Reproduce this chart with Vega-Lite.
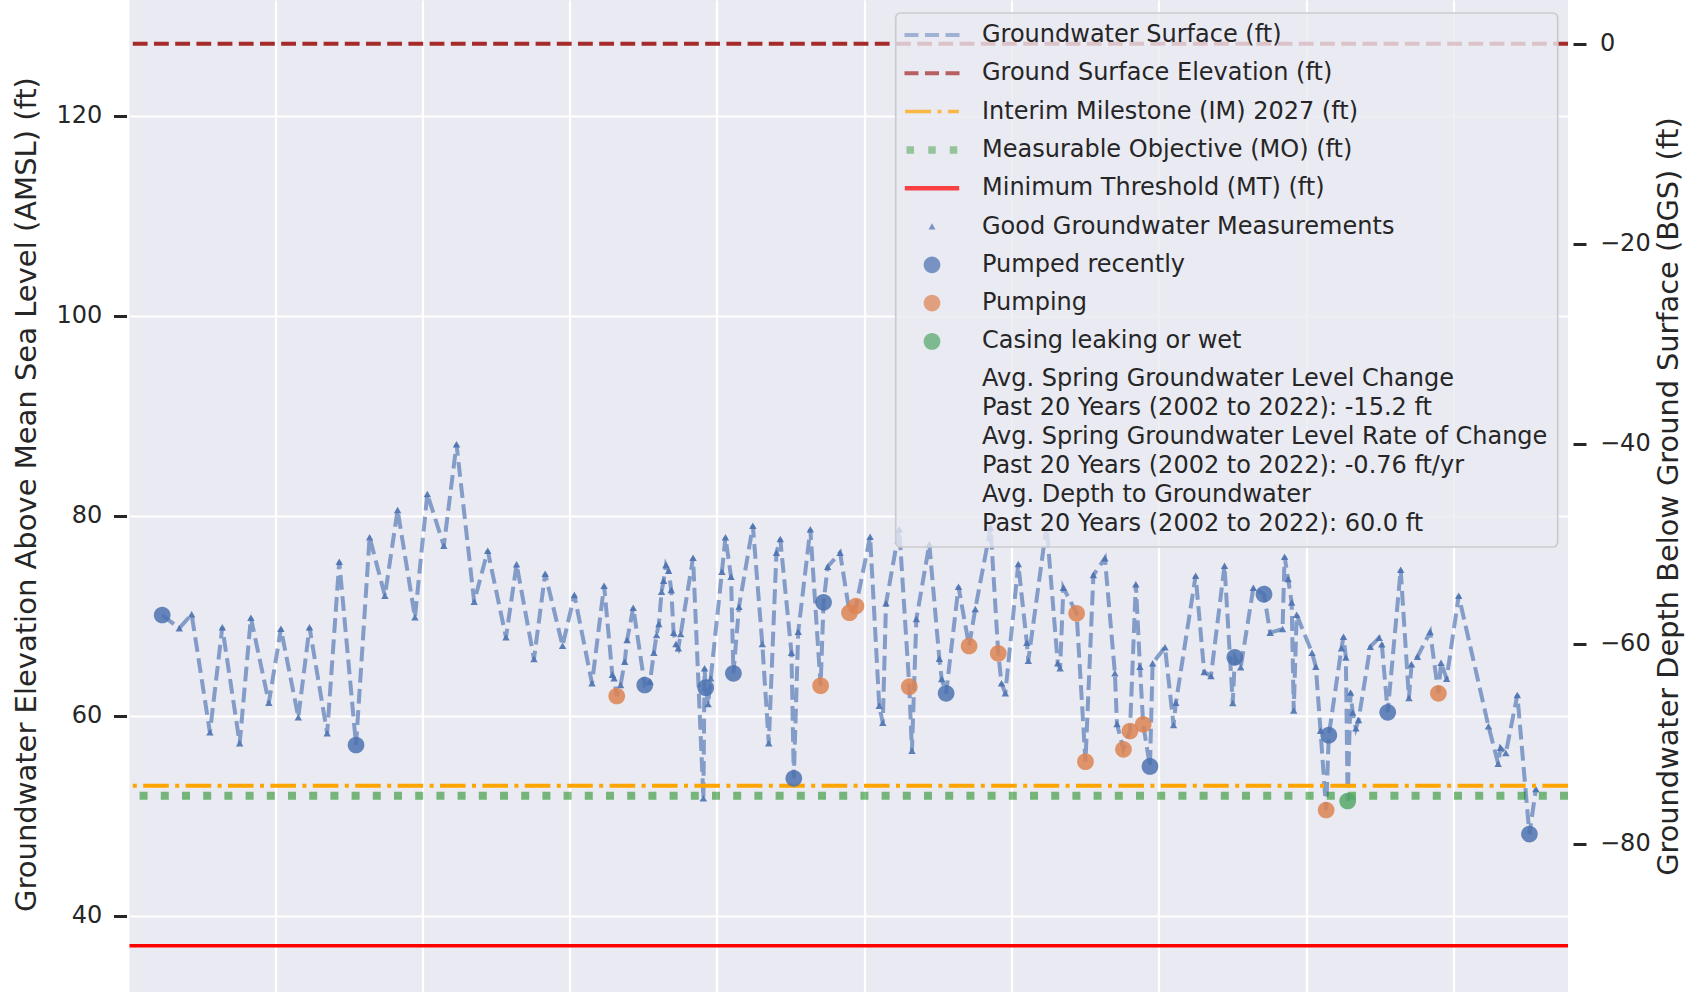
{
  "$schema": "https://vega.github.io/schema/vega-lite/v6.json",
  "width": 1438.5,
  "height": 992,
  "autosize": {"type": "none"},
  "padding": {"left": 129.5, "top": 0, "right": 126, "bottom": 0},
  "background": "white",
  "config": {
    "view": {"fill": "#EAEAF2", "stroke": null},
    "font": "DejaVu Sans",
    "axis": {"labelFont": "DejaVu Sans", "titleFont": "DejaVu Sans", "labelColor": "#262626", "titleColor": "#262626", "titleFontWeight": "normal", "domain": false},
    "legend": {"strokeWidth": 1.7}
  },
  "datasets": {
    "gw": [
      {"year": 1976.17, "elev": 70.07, "status": "Pumped recently"},
      {"year": 1976.75, "elev": 68.74, "status": "Good Groundwater Measurements"},
      {"year": 1977.17, "elev": 70.14, "status": "Good Groundwater Measurements"},
      {"year": 1977.79, "elev": 58.33, "status": "Good Groundwater Measurements"},
      {"year": 1978.21, "elev": 68.84, "status": "Good Groundwater Measurements"},
      {"year": 1978.80, "elev": 57.24, "status": "Good Groundwater Measurements"},
      {"year": 1979.18, "elev": 69.80, "status": "Good Groundwater Measurements"},
      {"year": 1979.79, "elev": 61.30, "status": "Good Groundwater Measurements"},
      {"year": 1980.20, "elev": 68.70, "status": "Good Groundwater Measurements"},
      {"year": 1980.79, "elev": 59.84, "status": "Good Groundwater Measurements"},
      {"year": 1981.17, "elev": 68.84, "status": "Good Groundwater Measurements"},
      {"year": 1981.77, "elev": 58.24, "status": "Good Groundwater Measurements"},
      {"year": 1982.18, "elev": 75.40, "status": "Good Groundwater Measurements"},
      {"year": 1982.75, "elev": 57.07, "status": "Pumped recently"},
      {"year": 1983.21, "elev": 77.84, "status": "Good Groundwater Measurements"},
      {"year": 1983.73, "elev": 72.00, "status": "Good Groundwater Measurements"},
      {"year": 1984.16, "elev": 80.57, "status": "Good Groundwater Measurements"},
      {"year": 1984.75, "elev": 69.84, "status": "Good Groundwater Measurements"},
      {"year": 1985.17, "elev": 82.17, "status": "Good Groundwater Measurements"},
      {"year": 1985.73, "elev": 77.00, "status": "Good Groundwater Measurements"},
      {"year": 1986.16, "elev": 87.14, "status": "Good Groundwater Measurements"},
      {"year": 1986.76, "elev": 71.40, "status": "Good Groundwater Measurements"},
      {"year": 1987.22, "elev": 76.50, "status": "Good Groundwater Measurements"},
      {"year": 1987.84, "elev": 67.84, "status": "Good Groundwater Measurements"},
      {"year": 1988.20, "elev": 75.14, "status": "Good Groundwater Measurements"},
      {"year": 1988.79, "elev": 65.67, "status": "Good Groundwater Measurements"},
      {"year": 1989.17, "elev": 74.20, "status": "Good Groundwater Measurements"},
      {"year": 1989.76, "elev": 67.00, "status": "Good Groundwater Measurements"},
      {"year": 1990.16, "elev": 72.07, "status": "Good Groundwater Measurements"},
      {"year": 1990.76, "elev": 63.24, "status": "Good Groundwater Measurements"},
      {"year": 1991.17, "elev": 73.00, "status": "Good Groundwater Measurements"},
      {"year": 1991.45, "elev": 64.10, "status": "Good Groundwater Measurements"},
      {"year": 1991.51, "elev": 63.74, "status": "Good Groundwater Measurements"},
      {"year": 1991.60, "elev": 61.97, "status": "Pumping"},
      {"year": 1991.73, "elev": 63.07, "status": "Good Groundwater Measurements"},
      {"year": 1991.87, "elev": 65.40, "status": "Good Groundwater Measurements"},
      {"year": 1991.95, "elev": 67.57, "status": "Good Groundwater Measurements"},
      {"year": 1992.16, "elev": 70.80, "status": "Good Groundwater Measurements"},
      {"year": 1992.55, "elev": 63.07, "status": "Pumped recently"},
      {"year": 1992.73, "elev": 63.40, "status": "Good Groundwater Measurements"},
      {"year": 1992.86, "elev": 66.30, "status": "Good Groundwater Measurements"},
      {"year": 1992.95, "elev": 68.07, "status": "Good Groundwater Measurements"},
      {"year": 1993.03, "elev": 69.17, "status": "Good Groundwater Measurements"},
      {"year": 1993.12, "elev": 72.40, "status": "Good Groundwater Measurements"},
      {"year": 1993.19, "elev": 73.50, "status": "Good Groundwater Measurements"},
      {"year": 1993.27, "elev": 75.07, "status": "Good Groundwater Measurements"},
      {"year": 1993.36, "elev": 74.50, "status": "Good Groundwater Measurements"},
      {"year": 1993.45, "elev": 72.57, "status": "Good Groundwater Measurements"},
      {"year": 1993.53, "elev": 68.30, "status": "Good Groundwater Measurements"},
      {"year": 1993.61, "elev": 67.17, "status": "Good Groundwater Measurements"},
      {"year": 1993.69, "elev": 66.74, "status": "Good Groundwater Measurements"},
      {"year": 1993.77, "elev": 68.17, "status": "Good Groundwater Measurements"},
      {"year": 1994.19, "elev": 75.80, "status": "Good Groundwater Measurements"},
      {"year": 1994.54, "elev": 51.74, "status": "Good Groundwater Measurements"},
      {"year": 1994.58, "elev": 64.74, "status": "Good Groundwater Measurements"},
      {"year": 1994.62, "elev": 62.80, "status": "Pumped recently"},
      {"year": 1994.70, "elev": 61.17, "status": "Good Groundwater Measurements"},
      {"year": 1994.79, "elev": 63.74, "status": "Good Groundwater Measurements"},
      {"year": 1995.17, "elev": 74.40, "status": "Good Groundwater Measurements"},
      {"year": 1995.29, "elev": 77.84, "status": "Good Groundwater Measurements"},
      {"year": 1995.48, "elev": 73.90, "status": "Good Groundwater Measurements"},
      {"year": 1995.56, "elev": 64.24, "status": "Pumped recently"},
      {"year": 1995.75, "elev": 70.90, "status": "Good Groundwater Measurements"},
      {"year": 1996.22, "elev": 79.00, "status": "Good Groundwater Measurements"},
      {"year": 1996.54, "elev": 67.17, "status": "Good Groundwater Measurements"},
      {"year": 1996.76, "elev": 57.24, "status": "Good Groundwater Measurements"},
      {"year": 1997.02, "elev": 76.30, "status": "Good Groundwater Measurements"},
      {"year": 1997.15, "elev": 77.67, "status": "Good Groundwater Measurements"},
      {"year": 1997.53, "elev": 66.30, "status": "Good Groundwater Measurements"},
      {"year": 1997.61, "elev": 53.74, "status": "Pumped recently"},
      {"year": 1997.76, "elev": 68.40, "status": "Good Groundwater Measurements"},
      {"year": 1998.17, "elev": 78.64, "status": "Good Groundwater Measurements"},
      {"year": 1998.52, "elev": 63.00, "status": "Pumping"},
      {"year": 1998.62, "elev": 71.34, "status": "Pumped recently"},
      {"year": 1998.76, "elev": 74.90, "status": "Good Groundwater Measurements"},
      {"year": 1999.18, "elev": 76.30, "status": "Good Groundwater Measurements"},
      {"year": 1999.50, "elev": 70.30, "status": "Pumping"},
      {"year": 1999.72, "elev": 70.97, "status": "Pumping"},
      {"year": 2000.20, "elev": 77.90, "status": "Good Groundwater Measurements"},
      {"year": 2000.51, "elev": 61.00, "status": "Good Groundwater Measurements"},
      {"year": 2000.63, "elev": 59.30, "status": "Good Groundwater Measurements"},
      {"year": 2000.74, "elev": 71.24, "status": "Good Groundwater Measurements"},
      {"year": 2001.19, "elev": 78.64, "status": "Good Groundwater Measurements"},
      {"year": 2001.53, "elev": 62.90, "status": "Pumping"},
      {"year": 2001.62, "elev": 56.50, "status": "Good Groundwater Measurements"},
      {"year": 2001.77, "elev": 69.67, "status": "Good Groundwater Measurements"},
      {"year": 2002.21, "elev": 77.17, "status": "Good Groundwater Measurements"},
      {"year": 2002.55, "elev": 65.70, "status": "Good Groundwater Measurements"},
      {"year": 2002.63, "elev": 63.67, "status": "Good Groundwater Measurements"},
      {"year": 2002.78, "elev": 62.24, "status": "Pumped recently"},
      {"year": 2003.20, "elev": 72.90, "status": "Good Groundwater Measurements"},
      {"year": 2003.56, "elev": 66.97, "status": "Pumping"},
      {"year": 2003.77, "elev": 70.67, "status": "Good Groundwater Measurements"},
      {"year": 2004.29, "elev": 78.80, "status": "Good Groundwater Measurements"},
      {"year": 2004.55, "elev": 66.24, "status": "Pumping"},
      {"year": 2004.66, "elev": 63.24, "status": "Good Groundwater Measurements"},
      {"year": 2004.79, "elev": 62.24, "status": "Good Groundwater Measurements"},
      {"year": 2005.23, "elev": 75.17, "status": "Good Groundwater Measurements"},
      {"year": 2005.52, "elev": 67.30, "status": "Good Groundwater Measurements"},
      {"year": 2005.57, "elev": 65.50, "status": "Good Groundwater Measurements"},
      {"year": 2006.19, "elev": 79.00, "status": "Good Groundwater Measurements"},
      {"year": 2006.57, "elev": 65.24, "status": "Good Groundwater Measurements"},
      {"year": 2006.65, "elev": 64.74, "status": "Good Groundwater Measurements"},
      {"year": 2006.76, "elev": 72.80, "status": "Good Groundwater Measurements"},
      {"year": 2007.21, "elev": 70.24, "status": "Pumping"},
      {"year": 2007.51, "elev": 55.40, "status": "Pumping"},
      {"year": 2007.78, "elev": 74.07, "status": "Good Groundwater Measurements"},
      {"year": 2008.17, "elev": 75.74, "status": "Good Groundwater Measurements"},
      {"year": 2008.51, "elev": 64.24, "status": "Good Groundwater Measurements"},
      {"year": 2008.58, "elev": 59.17, "status": "Good Groundwater Measurements"},
      {"year": 2008.80, "elev": 56.64, "status": "Pumping"},
      {"year": 2009.02, "elev": 58.47, "status": "Pumping"},
      {"year": 2009.22, "elev": 73.14, "status": "Good Groundwater Measurements"},
      {"year": 2009.36, "elev": 64.90, "status": "Good Groundwater Measurements"},
      {"year": 2009.47, "elev": 59.14, "status": "Pumping"},
      {"year": 2009.70, "elev": 54.93, "status": "Pumped recently"},
      {"year": 2009.79, "elev": 65.24, "status": "Good Groundwater Measurements"},
      {"year": 2010.21, "elev": 66.85, "status": "Good Groundwater Measurements"},
      {"year": 2010.50, "elev": 59.07, "status": "Good Groundwater Measurements"},
      {"year": 2010.58, "elev": 61.30, "status": "Good Groundwater Measurements"},
      {"year": 2011.25, "elev": 74.00, "status": "Good Groundwater Measurements"},
      {"year": 2011.54, "elev": 64.37, "status": "Good Groundwater Measurements"},
      {"year": 2011.77, "elev": 63.97, "status": "Good Groundwater Measurements"},
      {"year": 2012.23, "elev": 75.00, "status": "Good Groundwater Measurements"},
      {"year": 2012.51, "elev": 61.27, "status": "Good Groundwater Measurements"},
      {"year": 2012.58, "elev": 65.84, "status": "Pumped recently"},
      {"year": 2012.78, "elev": 64.84, "status": "Good Groundwater Measurements"},
      {"year": 2013.21, "elev": 72.80, "status": "Good Groundwater Measurements"},
      {"year": 2013.57, "elev": 72.15, "status": "Pumped recently"},
      {"year": 2013.78, "elev": 68.30, "status": "Good Groundwater Measurements"},
      {"year": 2014.20, "elev": 68.67, "status": "Good Groundwater Measurements"},
      {"year": 2014.27, "elev": 75.90, "status": "Good Groundwater Measurements"},
      {"year": 2014.39, "elev": 73.67, "status": "Good Groundwater Measurements"},
      {"year": 2014.51, "elev": 71.32, "status": "Good Groundwater Measurements"},
      {"year": 2014.58, "elev": 60.52, "status": "Good Groundwater Measurements"},
      {"year": 2014.68, "elev": 70.10, "status": "Good Groundwater Measurements"},
      {"year": 2015.20, "elev": 66.30, "status": "Good Groundwater Measurements"},
      {"year": 2015.33, "elev": 64.90, "status": "Good Groundwater Measurements"},
      {"year": 2015.49, "elev": 58.50, "status": "Good Groundwater Measurements"},
      {"year": 2015.68, "elev": 50.57, "status": "Pumping"},
      {"year": 2015.77, "elev": 58.05, "status": "Pumped recently"},
      {"year": 2016.20, "elev": 66.74, "status": "Good Groundwater Measurements"},
      {"year": 2016.27, "elev": 67.90, "status": "Good Groundwater Measurements"},
      {"year": 2016.35, "elev": 65.82, "status": "Good Groundwater Measurements"},
      {"year": 2016.41, "elev": 51.47, "status": "Casing leaking or wet"},
      {"year": 2016.51, "elev": 62.32, "status": "Good Groundwater Measurements"},
      {"year": 2016.58, "elev": 60.32, "status": "Good Groundwater Measurements"},
      {"year": 2016.69, "elev": 58.74, "status": "Good Groundwater Measurements"},
      {"year": 2016.78, "elev": 59.57, "status": "Good Groundwater Measurements"},
      {"year": 2017.18, "elev": 66.90, "status": "Good Groundwater Measurements"},
      {"year": 2017.48, "elev": 67.80, "status": "Good Groundwater Measurements"},
      {"year": 2017.57, "elev": 67.15, "status": "Good Groundwater Measurements"},
      {"year": 2017.77, "elev": 60.34, "status": "Pumped recently"},
      {"year": 2018.21, "elev": 74.60, "status": "Good Groundwater Measurements"},
      {"year": 2018.49, "elev": 61.77, "status": "Good Groundwater Measurements"},
      {"year": 2018.58, "elev": 65.14, "status": "Good Groundwater Measurements"},
      {"year": 2018.78, "elev": 65.90, "status": "Good Groundwater Measurements"},
      {"year": 2019.21, "elev": 68.37, "status": "Good Groundwater Measurements"},
      {"year": 2019.49, "elev": 62.24, "status": "Pumping"},
      {"year": 2019.58, "elev": 65.30, "status": "Good Groundwater Measurements"},
      {"year": 2019.77, "elev": 63.70, "status": "Good Groundwater Measurements"},
      {"year": 2020.18, "elev": 72.00, "status": "Good Groundwater Measurements"},
      {"year": 2021.19, "elev": 58.95, "status": "Good Groundwater Measurements"},
      {"year": 2021.52, "elev": 55.20, "status": "Good Groundwater Measurements"},
      {"year": 2021.60, "elev": 56.80, "status": "Good Groundwater Measurements"},
      {"year": 2021.78, "elev": 56.27, "status": "Good Groundwater Measurements"},
      {"year": 2022.17, "elev": 62.07, "status": "Good Groundwater Measurements"},
      {"year": 2022.58, "elev": 48.16, "status": "Pumped recently"},
      {"year": 2022.80, "elev": 52.67, "status": "Good Groundwater Measurements"}
    ],
    "thresholds": [
      {"series": "Interim Milestone (IM) 2027 (ft)", "elev": 53.0},
      {"series": "Measurable Objective (MO) (ft)", "elev": 52.0},
      {"series": "Minimum Threshold (MT) (ft)", "elev": 37.0}
    ],
    "surface": [
      {"series": "Ground Surface Elevation (ft)", "depth_bgs": 0}
    ]
  },
  "layer": [
    {
      "encoding": {
        "y": {
          "field": "elev", "type": "quantitative",
          "scale": {"domain": [32.37, 131.57], "nice": false, "zero": false},
          "axis": {
            "orient": "left", "values": [40, 60, 80, 100, 120], "format": "d",
            "grid": true, "gridColor": "white", "gridWidth": 2.2,
            "ticks": true, "tickColor": "#262626", "tickSize": 13, "tickWidth": 3, "offset": 3,
            "labelFontSize": 24, "labelPadding": 11.7,
            "title": "Groundwater Elevation Above Mean Sea Level (AMSL) (ft)",
            "titleFontSize": 29, "titleAngle": -90, "titleX": -100, "titleY": 494,
            "titleAlign": "center", "titleBaseline": "middle"
          }
        }
      },
      "layer": [
        {
          "data": {"name": "gw"},
          "mark": {"type": "line", "color": "#4C72B0", "opacity": 0.65, "strokeWidth": 4, "strokeDash": [14.8, 6.4]},
          "encoding": {
            "x": {
              "field": "year", "type": "quantitative",
              "scale": {"domain": [1975.06, 2023.89], "nice": false, "zero": false},
              "axis": {"values": [1980, 1985, 1990, 1995, 2000, 2005, 2010, 2015, 2020], "grid": true, "gridColor": "white", "gridWidth": 2.2, "labels": false, "ticks": false, "domain": false, "title": null}
            }
          }
        },
        {
          "data": {"name": "gw"},
          "transform": [{"filter": "datum.status == 'Good Groundwater Measurements'"}],
          "mark": {"type": "point", "filled": true, "shape": "triangle-up", "size": 55, "color": "#4C72B0", "opacity": 0.9},
          "encoding": {
            "x": {"field": "year", "type": "quantitative"}
          }
        },
        {
          "data": {"name": "thresholds"},
          "transform": [{"filter": "datum.series == 'Interim Milestone (IM) 2027 (ft)'"}],
          "mark": {"type": "rule", "color": "#FFA500", "strokeWidth": 4, "strokeDash": [25.6, 6.4, 4, 6.4]},
          "encoding": {}
        },
        {
          "data": {"name": "thresholds"},
          "transform": [{"filter": "datum.series == 'Measurable Objective (MO) (ft)'"}],
          "mark": {"type": "rule", "color": "green", "opacity": 0.5, "strokeWidth": 8, "strokeDash": [8, 13.2], "strokeCap": "butt"},
          "encoding": {}
        },
        {
          "data": {"name": "thresholds"},
          "transform": [{"filter": "datum.series == 'Minimum Threshold (MT) (ft)'"}],
          "mark": {"type": "rule", "color": "#FF0000", "strokeWidth": 3.6},
          "encoding": {}
        },
        {
          "data": {"name": "gw"},
          "transform": [{"filter": "datum.status != 'Good Groundwater Measurements'"}],
          "mark": {"type": "point", "filled": true, "size": 256, "opacity": 0.85},
          "encoding": {
            "x": {"field": "year", "type": "quantitative"},
            "shape": {
              "field": "status", "type": "nominal",
              "scale": {
                "domain": ["Groundwater Surface (ft)", "Ground Surface Elevation (ft)", "Interim Milestone (IM) 2027 (ft)", "Measurable Objective (MO) (ft)", "Minimum Threshold (MT) (ft)", "Good Groundwater Measurements", "Pumped recently", "Pumping", "Casing leaking or wet"],
                "range": [
                  "M-3.44,-0.25H-1.69V0.25H-3.44Z M-0.88,-0.25H0.88V0.25H-0.88Z M1.69,-0.25H3.44V0.25H1.69Z",
                  "M-3.44,-0.25H-1.69V0.25H-3.44Z M-0.88,-0.25H0.88V0.25H-0.88Z M1.69,-0.25H3.44V0.25H1.69Z",
                  "M-3.36,-0.22H-0.11V0.22H-3.36Z M0.69,-0.22H1.19V0.22H0.69Z M1.99,-0.22H3.365V0.22H1.99Z",
                  "M-3.19,-0.47H-2.25V0.47H-3.19Z M-0.47,-0.47H0.47V0.47H-0.47Z M2.22,-0.47H3.16V0.47H2.22Z",
                  "M-3.4,-0.28H3.4V0.28H-3.4Z",
                  "M0,-0.42L0.43,0.36L-0.43,0.36Z",
                  "M-1.044,0A1.044,1.044,0,1,1,1.044,0A1.044,1.044,0,1,1,-1.044,0Z",
                  "M-1.044,0A1.044,1.044,0,1,1,1.044,0A1.044,1.044,0,1,1,-1.044,0Z",
                  "M-1.044,0A1.044,1.044,0,1,1,1.044,0A1.044,1.044,0,1,1,-1.044,0Z"
                ]
              }
            },
            "color": {
              "field": "status", "type": "nominal",
              "scale": {
                "domain": ["Groundwater Surface (ft)", "Ground Surface Elevation (ft)", "Interim Milestone (IM) 2027 (ft)", "Measurable Objective (MO) (ft)", "Minimum Threshold (MT) (ft)", "Good Groundwater Measurements", "Pumped recently", "Pumping", "Casing leaking or wet"],
                "range": ["#839CC7", "#A52A2A", "#FFA500", "#75B579", "#FF0000", "#4C72B0", "#4C72B0", "#DD8452", "#55A868"]
              },
              "legend": {
                "orient": "none", "legendX": 766.2, "legendY": 13,
                "title": [
                  "\u200b\u00a0\u00a0\u00a0\u00a0\u00a0\u00a0\u00a0\u00a0\u00a0\u00a0Avg. Spring Groundwater Level Change",
                  "\u200b\u00a0\u00a0\u00a0\u00a0\u00a0\u00a0\u00a0\u00a0\u00a0\u00a0Past 20 Years (2002 to 2022): -15.2 ft",
                  "\u200b\u00a0\u00a0\u00a0\u00a0\u00a0\u00a0\u00a0\u00a0\u00a0\u00a0Avg. Spring Groundwater Level Rate of Change",
                  "\u200b\u00a0\u00a0\u00a0\u00a0\u00a0\u00a0\u00a0\u00a0\u00a0\u00a0Past 20 Years (2002 to 2022): -0.76 ft/yr",
                  "\u200b\u00a0\u00a0\u00a0\u00a0\u00a0\u00a0\u00a0\u00a0\u00a0\u00a0Avg. Depth to Groundwater",
                  "\u200b\u00a0\u00a0\u00a0\u00a0\u00a0\u00a0\u00a0\u00a0\u00a0\u00a0Past 20 Years (2002 to 2022): 60.0 ft"
                ],
                "titleOrient": "bottom", "titleAnchor": "start", "titleAlign": "left", "titleBaseline": "top",
                "titleFont": "DejaVu Sans", "titleFontSize": 24, "titleFontWeight": "normal", "titleColor": "#262626",
                "titleLineHeight": 29, "titleLimit": 3000, "titlePadding": 14.1,
                "labelFont": "DejaVu Sans", "labelFontSize": 24, "labelColor": "#262626", "labelLimit": 3000,
                "labelOffset": 38, "labelBaseline": "middle",
                "symbolSize": 256, "symbolOffset": 14.3, "symbolStrokeWidth": 0, "symbolOpacity": 1,
                "rowPadding": 14.3, "padding": 10,
                "fillColor": "rgba(234,234,242,0.8)", "strokeColor": "#CBCBCF", "cornerRadius": 5
              }
            }
          }
        }
      ]
    },
    {
      "data": {"name": "surface"},
      "mark": {"type": "rule", "color": "#A52A2A", "strokeWidth": 4, "strokeDash": [14.8, 6.4]},
      "encoding": {
        "y": {
          "field": "depth_bgs", "type": "quantitative",
          "scale": {"domain": [-94.83, 4.37], "nice": false, "zero": false},
          "axis": {
            "orient": "right", "values": [0, -20, -40, -60, -80], "format": "d",
            "grid": false,
            "ticks": true, "tickColor": "#262626", "tickSize": 13, "tickWidth": 3, "offset": 5,
            "labelFontSize": 24, "labelPadding": 13.5,
            "title": "Groundwater Depth Below Ground Surface (BGS) (ft)",
            "titleFontSize": 28.8, "titleAngle": -90, "titleX": 95, "titleY": 496,
            "titleAlign": "center", "titleBaseline": "middle"
          }
        }
      }
    }
  ],
  "resolve": {"scale": {"y": "independent"}, "axis": {"y": "independent"}}
}
